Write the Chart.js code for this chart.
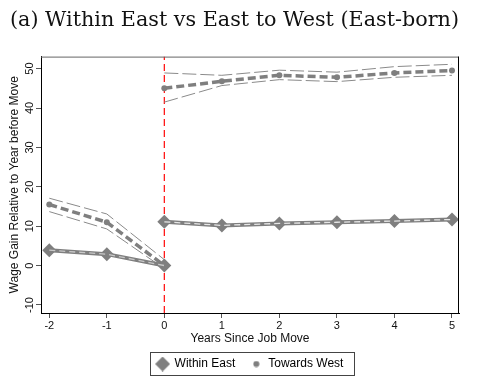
<!DOCTYPE html>
<html>
<head>
<meta charset="utf-8">
<script src="https://cdn.jsdelivr.net/npm/chart.js@4.4.1/dist/chart.umd.min.js"></script>
<style>
	body { margin: 0; background: #fff; }
</style>
</head>
<body>
<canvas id="chart" width="479" height="386"></canvas>
<script>
// years since the move, split into the pre and post segments
const preYears = [-2, -1, 0];
const postYears = [0, 1, 2, 3, 4, 5];

const withinPre = [3.9, 2.9, 0];
const withinPost = [11.1, 10.2, 10.7, 11.0, 11.3, 11.7];

const westPre = [15.5, 11.0, 0];
const westPost = [45.0, 46.8, 48.3, 47.8, 48.9, 49.5];
const westPreHi = [17.1, 13.1, 1.5];
const westPreLo = [13.7, 9.3, -0.8];
const westPostHi = [48.9, 48.3, 49.6, 49.1, 50.5, 51.1];
const westPostLo = [41.5, 45.7, 47.2, 46.7, 47.8, 48.3];

const xTicks = [-2, -1, 0, 1, 2, 3, 4, 5];
const yTicks = [-10, 0, 10, 20, 30, 40, 50];
const xMin = -2.144, xMax = 5.122;
const yMin = -12.04, yMax = 53.05;

const grey = '#7f7f7f';

function pts(xs, ys) {
	return xs.map((x, i) => ({x: x, y: ys[i]}));
}

// little pictures for the legend symbols
function diamondImg() {
	let c = document.createElement('canvas');
	c.width = 15; c.height = 15;
	let g = c.getContext('2d');
	g.fillStyle = grey;
	g.beginPath();
	g.moveTo(7.5, 0); g.lineTo(15, 7.5); g.lineTo(7.5, 15); g.lineTo(0, 7.5);
	g.closePath();
	g.fill();
	return c;
}
function dotImg() {
	let c = document.createElement('canvas');
	c.width = 7; c.height = 7;
	let g = c.getContext('2d');
	g.fillStyle = grey;
	g.beginPath();
	g.arc(3.5, 3.5, 3, 0, Math.PI * 2);
	g.fill();
	return c;
}
const legendIcons = [diamondImg(), dotImg()];

const frame = {
	id: 'frame',
	afterDraw(chart) {
		const {ctx, chartArea: a} = chart;
		ctx.save();
		ctx.lineWidth = 1;
		ctx.strokeStyle = '#666';
		ctx.beginPath();
		ctx.moveTo(a.left, a.top + 0.5);
		ctx.lineTo(a.right, a.top + 0.5);
		ctx.stroke();
		ctx.strokeStyle = '#000';
		ctx.beginPath();
		ctx.moveTo(a.right - 0.5, a.top);
		ctx.lineTo(a.right - 0.5, a.bottom);
		ctx.stroke();
		// box round the legend
		const hb = chart.legend.legendHitBoxes;
		if (hb && hb.length) {
			const first = hb[0], last = hb[hb.length - 1];
			const cy = first.top + first.height / 2;
			ctx.strokeStyle = '#444';
			ctx.strokeRect(Math.round(first.left - 7) + 0.5, Math.round(cy - 12) + 0.5,
				Math.round(last.left + last.width - first.left + 17), 23);
		}
		ctx.restore();
	}
};

Chart.defaults.font.family = 'Liberation Sans';
Chart.defaults.color = '#111';

const ctx = document.getElementById('chart');
let chart = new Chart(ctx, {
	type: 'line',
	data: {
		datasets: [
			{
				label: 'overlay pre',
				data: pts(preYears, withinPre),
				borderColor: '#c8c8c8',
				borderWidth: 1.3,
				borderDash: [6, 4],
				pointRadius: 0
			},
			{
				label: 'overlay post',
				data: pts(postYears, withinPost),
				borderColor: '#e6e6e6',
				borderWidth: 1.3,
				borderDash: [6, 4],
				pointRadius: 0
			},
			{
				label: 'Within East',
				data: pts(preYears, withinPre),
				borderColor: grey,
				backgroundColor: grey,
				borderWidth: 4,
				pointStyle: 'rectRot',
				pointRadius: 7,
				pointBorderWidth: 0
			},
			{
				label: 'Within East post',
				data: pts(postYears, withinPost),
				borderColor: grey,
				backgroundColor: grey,
				borderWidth: 4,
				pointStyle: 'rectRot',
				pointRadius: 7,
				pointBorderWidth: 0
			},
			{
				label: 'Towards West',
				data: pts(preYears, westPre),
				borderColor: grey,
				backgroundColor: grey,
				borderWidth: 3.5,
				borderDash: [8, 4],
				pointRadius: 3,
				pointBorderWidth: 0
			},
			{
				label: 'Towards West post',
				data: pts(postYears, westPost),
				borderColor: grey,
				backgroundColor: grey,
				borderWidth: 3.5,
				borderDash: [8, 4],
				pointRadius: 3,
				pointBorderWidth: 0
			},
			{
				label: 'ci pre hi',
				data: pts(preYears, westPreHi),
				borderColor: '#8a8a8a',
				borderWidth: 1,
				borderDash: [14, 4],
				pointRadius: 0
			},
			{
				label: 'ci pre lo',
				data: pts(preYears, westPreLo),
				borderColor: '#8a8a8a',
				borderWidth: 1,
				borderDash: [14, 4],
				pointRadius: 0
			},
			{
				label: 'ci post hi',
				data: pts(postYears, westPostHi),
				borderColor: '#8a8a8a',
				borderWidth: 1,
				borderDash: [14, 4],
				pointRadius: 0
			},
			{
				label: 'ci post lo',
				data: pts(postYears, westPostLo),
				borderColor: '#8a8a8a',
				borderWidth: 1,
				borderDash: [14, 4],
				pointRadius: 0
			},
			{
				label: 'move',
				data: [{x: 0, y: yMin}, {x: 0, y: yMax}],
				borderColor: '#ff1a1a',
				borderWidth: 1.3,
				borderDash: [7, 4],
				pointRadius: 0
			}
		]
	},
	options: {
		responsive: false,
		animation: false,
		layout: { padding: { left: 10, right: 20, top: 0, bottom: 6 } },
		elements: { line: { tension: 0 } },
		scales: {
			x: {
				type: 'linear',
				min: xMin,
				max: xMax,
				afterBuildTicks: s => { s.ticks = xTicks.map(v => ({value: v})); },
				afterFit: s => { s.height = 30; },
				grid: { drawOnChartArea: false, drawTicks: true, tickLength: 5, color: '#555' },
				border: { color: '#000', width: 1 },
				ticks: { font: { size: 11 }, padding: 1, autoSkip: false, maxRotation: 0, color: '#111' },
				title: {
					display: true,
					text: 'Years Since Job Move',
					font: { size: 12 },
					padding: { top: 0, bottom: -3 },
					color: '#111'
				}
			},
			y: {
				min: yMin,
				max: yMax,
				afterBuildTicks: s => { s.ticks = yTicks.map(v => ({value: v})); },
				afterFit: s => { s.width = 31; },
				grid: { drawOnChartArea: false, drawTicks: true, tickLength: 5, color: '#555' },
				border: { color: '#000', width: 1 },
				ticks: {
					font: { size: 11 },
					minRotation: 90,
					maxRotation: 90,
					crossAlign: 'center',
					padding: -2,
					autoSkip: false,
					color: '#111'
				},
				title: {
					display: true,
					text: 'Wage Gain Relative to Year before Move',
					font: { size: 12 },
					padding: { top: -3, bottom: 0 },
					color: '#111'
				}
			}
		},
		plugins: {
			title: {
				display: true,
				text: '(a) Within East vs East to West (East-born)',
				align: 'start',
				font: { family: 'DejaVu Serif', size: 21, weight: 'normal' },
				color: '#111',
				padding: { top: 8, bottom: 23.4 }
			},
			legend: {
				position: 'bottom',
				fullSize: false,
				labels: {
					usePointStyle: true,
					font: { size: 12 },
					padding: 15,
					color: '#111',
					generateLabels: () => [
						{ text: 'Within East', pointStyle: legendIcons[0], hidden: false, datasetIndex: 2, lineWidth: 0 },
						{ text: 'Towards West', pointStyle: legendIcons[1], hidden: false, datasetIndex: 4, lineWidth: 0 }
					]
				}
			},
			tooltip: { enabled: false }
		}
	},
	plugins: [frame]
});
</script>
</body>
</html>
